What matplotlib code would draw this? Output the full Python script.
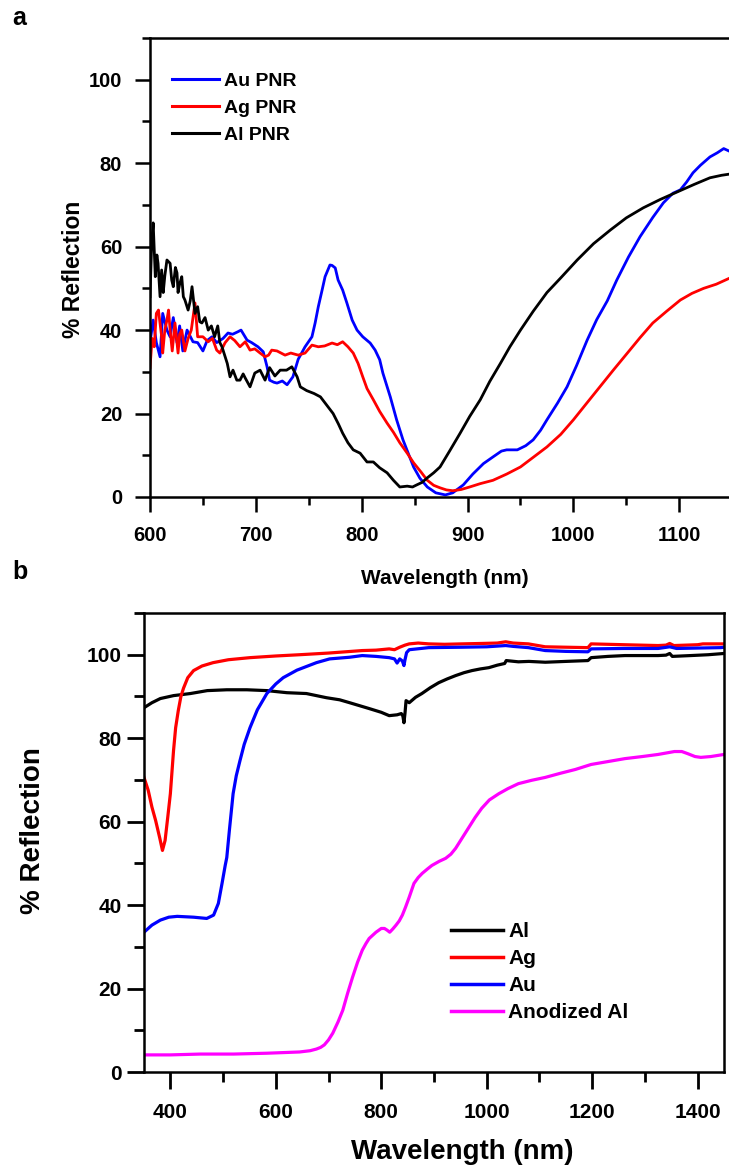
import matplotlib
matplotlib.use("Agg")
import matplotlib.pyplot as plt
from matplotlib.ticker import MultipleLocator

plt.rcParams['font.family'] = ['Liberation Sans', 'DejaVu Sans']
plt.rcParams['font.weight'] = 'bold'

# ---------------- Panel a data ----------------
au_pnr_x = [600, 603, 606, 609.5, 612, 616, 619, 622, 625.5, 628, 631, 635, 640.6, 645, 650, 654, 658.6, 663, 669,
            673.7, 678, 683, 686, 691.7, 696, 702, 707, 710.6, 713, 717, 720, 725, 729.5, 735, 740, 746.5, 753, 756,
            759, 762.6, 765.4, 770, 772, 775, 777.7, 782, 786, 791, 795.6, 801, 808, 812.7, 817, 820, 827, 833, 839,
            849, 855, 862, 870, 879, 886, 896, 905, 915, 924, 932, 937, 947, 955, 962, 969, 975, 985, 994, 1003, 1013,
            1022, 1032, 1041, 1052, 1063, 1075, 1085, 1094, 1101, 1107, 1113, 1120, 1129, 1136, 1142, 1148]
au_pnr_y = [37, 42.4, 37, 33.6, 44, 40, 38.4, 43, 37, 41, 35, 40, 37.2, 37, 35, 37.5, 38.4, 37, 38,
            39.3, 39, 39.6, 40, 37.6, 37, 36, 34.8, 31.2, 28, 27.5, 27.3, 27.8, 26.9, 28.8, 33, 36, 38.4, 41.7,
            45.6, 49.6, 52.8, 55.6, 55.5, 54.9, 52, 49.6, 46.5, 42.4, 40, 38.4, 36.9, 35.2, 32.9, 29.7, 24, 18.5, 13.7,
            7.2, 4.5, 2.4, 1, 0.5, 1, 2.9, 5.5, 8, 9.6, 11, 11.3, 11.3, 12.3, 13.7, 16, 18.5, 22.5, 26.4, 31.5, 37.6,
            42.5, 47, 52, 57.5, 62.4, 67, 70.5, 72.8, 73.6, 75.5, 77.7, 79.5, 81.5, 82.5, 83.5, 82.8]

ag_pnr_x = [600, 602, 604, 606, 608, 611, 612, 614, 616, 617.5, 619, 621, 623.6, 626.5, 628, 630, 633, 636, 639,
            642.5, 645, 650, 655, 659, 663, 666, 671, 675.6, 680, 685, 690, 694.5, 699, 704, 708.7, 712, 715, 720,
            727.6, 733, 740, 746.5, 753, 759, 765, 772, 777, 782, 787, 792, 796.6, 801, 805, 811, 817, 824, 830, 836,
            843, 849, 856, 862, 868, 874, 880, 886, 894, 902, 912, 924, 937, 950, 962, 975, 988, 1000, 1012, 1025,
            1038, 1051, 1063, 1075, 1088, 1101, 1112, 1123, 1135, 1148]
ag_pnr_y = [31, 38, 36, 44, 44.8, 38.4, 34.5, 40, 42.4, 44.8, 40, 35, 41.7, 34.5, 39, 40, 35, 38, 40,
            46.5, 38.4, 38.4, 37.2, 38, 35.2, 34.5, 37, 38.4, 37.5, 36, 37.2, 35.2, 35.5, 34.5, 33.6, 34, 35.2, 35,
            34, 34.5, 34, 34.5, 36.4, 36, 36.2, 36.9, 36.5, 37.2, 36, 34.5, 32, 28.8, 26, 23.3, 20.5, 17.7, 15.5, 13,
            10.5, 8.2, 6, 4, 2.8, 2.2, 1.7, 1.5, 1.8, 2.4, 3.2, 4, 5.5, 7.2, 9.5, 12, 15, 18.5, 22.3, 26.4,
            30.5, 34.5, 38.2, 41.7, 44.5, 47.2, 48.8, 50, 51, 52.5]

al_pnr_x = [600, 601.6, 603, 605, 606.5, 607.6, 609.5, 611, 612.5, 614, 616, 619, 620.5, 622, 624, 625.5, 626.5, 628,
            630, 631.5, 633, 636, 638, 639.7, 642.5, 645, 647, 649, 652, 655, 658, 661, 664, 666, 668, 671, 673,
            675.6, 678.4, 682, 685, 688, 690, 694.5, 699, 704, 708.7, 713, 718, 723, 729, 734, 739, 742, 748, 755,
            761, 767, 773, 778, 782, 787, 792, 798.5, 805, 811, 817, 824, 830, 836, 843, 848, 852, 857, 862, 868,
            874, 883, 893, 902, 912, 921, 931, 940, 950, 962, 975, 988, 1003.6, 1019, 1035, 1050, 1066, 1082, 1098,
            1114, 1129, 1140, 1148]
al_pnr_y = [48, 61, 65.7, 52.8, 58, 56, 48, 54.4, 49, 53, 56.8, 56, 52, 50.4, 55, 53.7, 49, 51,
            52.8, 48, 47.2, 44.8, 47, 50.4, 44, 45.6, 42, 41.7, 43, 40, 41, 38.4, 41, 37, 36, 33.6, 32,
            28.8, 30.4, 28, 28, 29.5, 28.5, 26.4, 29.7, 30.4, 28, 31, 29, 30.4, 30.4, 31.2, 28.8, 26.4, 25.5, 24.8,
            24, 22, 20, 17.5, 15.3, 13, 11.3, 10.5, 8.4, 8.4, 7, 5.8, 4, 2.4, 2.6, 2.4, 2.9, 3.5, 4.6, 5.8,
            7.2, 11, 15.3, 19.3, 23.3, 27.7, 32, 36, 40, 44.5, 49, 52.5, 56.8, 60.7, 64, 66.9, 69.3, 71.3, 73.1,
            74.9, 76.5, 77.1, 77.4]

# ---------------- Panel b data ----------------
al_x = [350, 365, 381, 406, 438, 470, 507, 545, 583, 621, 658, 696, 721, 740, 777, 800, 815, 830, 838, 841, 843,
        845, 847, 853, 865, 877, 893, 909, 925, 941, 957, 972, 988, 1004, 1020, 1034, 1037, 1060, 1080, 1111,
        1150, 1192, 1198, 1230, 1262, 1300, 1325, 1340, 1347, 1352, 1387, 1420, 1450]
al_y = [87.3, 88.5, 89.5, 90.2, 90.7, 91.4, 91.6, 91.6, 91.4, 90.9, 90.7, 89.7, 89.2, 88.5, 87.1, 86.2, 85.4, 85.6,
        85.9, 85.3, 83.7, 86, 89, 88.5, 89.8, 90.7, 92.1, 93.3, 94.2, 95, 95.7, 96.2, 96.6, 96.9, 97.5, 97.9, 98.6,
        98.3, 98.4, 98.2, 98.4, 98.6, 99.3, 99.6, 99.8, 99.8, 99.8, 99.9, 100.3, 99.6, 99.8, 100, 100.3]

ag_x = [350, 358, 365, 372, 380, 385, 390, 395, 400, 406, 410, 415, 420, 425, 433, 444, 460, 481, 510, 551, 600,
        645, 700, 764, 790, 815, 825, 835, 845, 853, 870, 890, 920, 953, 990, 1020, 1036, 1050, 1079, 1111, 1150,
        1192, 1198, 1260, 1325, 1340, 1347, 1355, 1400, 1410, 1450]
ag_y = [70.6, 67.5, 63.5, 60.3, 56, 53.1, 55.5, 61, 66.7, 77, 82.5, 86.6, 90, 92, 94.5, 96.2, 97.3, 98.1, 98.8,
        99.3, 99.7, 100, 100.4, 101, 101.1, 101.4, 101.2, 101.8, 102.3, 102.6, 102.8, 102.6, 102.5, 102.6, 102.7,
        102.8, 103.1, 102.8, 102.6, 101.9, 101.8, 101.7, 102.6, 102.4, 102.2, 102.3, 102.7, 102.2, 102.4, 102.6,
        102.6]

au_x = [350, 365, 381, 397, 413, 444, 469, 482, 491, 498, 504, 507, 512, 519, 525, 532, 540, 551, 565, 583, 600,
        614, 640, 677, 702, 740, 764, 790, 815, 825, 830, 835, 840, 843, 845, 848, 853, 890, 953, 1000, 1036, 1050,
        1079, 1111, 1150, 1192, 1198, 1260, 1325, 1347, 1360, 1400, 1444, 1450]
au_y = [33.5, 35.2, 36.4, 37.1, 37.3, 37.1, 36.8, 37.6, 40.4, 45.2, 49.5, 51.4, 58, 66.7, 71, 74.6, 78.5, 82.5,
        86.8, 90.7, 93, 94.5, 96.3, 98.1, 99, 99.4, 99.8, 99.6, 99.3, 99, 98, 99, 98.5, 97.4, 98.8, 100.5, 101.2,
        101.7, 101.8, 101.9, 102.2, 102, 101.7, 101, 100.8, 100.7, 101.4, 101.5, 101.5, 101.9, 101.5, 101.6, 101.7,
        101.8]

anod_x = [350, 400, 457, 520, 583, 645, 665, 677, 685, 692, 700, 708, 718, 727, 736, 745.5, 755, 764, 771, 777, 790,
          800, 806, 811, 816, 822, 828, 834, 840, 846, 853, 862, 870, 877.6, 888, 896, 910, 922, 932, 941, 953, 966,
          978, 990.5, 1005, 1023, 1040, 1060, 1085, 1111, 1140, 1168, 1198, 1230, 1262, 1295, 1325, 1356, 1370,
          1381, 1395, 1406, 1425, 1450]
anod_y = [4.1, 4.1, 4.3, 4.3, 4.5, 4.8, 5.1, 5.5, 5.9, 6.5, 7.7, 9.3, 12, 14.8, 18.8, 22.7, 26.3, 29.2, 30.8, 32,
          33.5, 34.4, 34.4, 34.0, 33.5, 34.3, 35.2, 36.2, 37.6, 39.5, 41.9, 45.2, 46.6, 47.6, 48.7, 49.5, 50.5, 51.2,
          52.2, 53.6, 56, 58.6, 61, 63.2, 65.2, 66.7, 67.9, 69.1, 69.9, 70.6, 71.6, 72.5, 73.7, 74.4, 75.1, 75.6,
          76.1, 76.8, 76.8, 76.3, 75.6, 75.4, 75.6, 76.1]

BLUE, RED, BLACK, MAG = '#0000ff', '#ff0000', '#000000', '#ff00ff'

W, H = 729, 1168
fig = plt.figure(figsize=(W / 100, H / 100), dpi=100)

def axes_px(l, t, r, b):
    return fig.add_axes([l / W, 1 - b / H, (r - l) / W, (b - t) / H])

# ---------------- Panel a ----------------
axa = axes_px(150, 38, 729, 497)
axa.plot(au_pnr_x, au_pnr_y, color=BLUE, lw=2.0, label='Au PNR')
axa.plot(ag_pnr_x, ag_pnr_y, color=RED, lw=2.0, label='Ag PNR')
axa.plot(al_pnr_x, al_pnr_y, color=BLACK, lw=2.0, label='Al PNR')
axa.set_xlim(600, 1147)
axa.set_ylim(0, 110)
axa.spines['right'].set_visible(False)
for s in ['left', 'top', 'bottom']:
    axa.spines[s].set_linewidth(1.8)
axa.xaxis.set_major_locator(MultipleLocator(100))
axa.xaxis.set_minor_locator(MultipleLocator(50))
axa.yaxis.set_major_locator(MultipleLocator(20))
axa.yaxis.set_minor_locator(MultipleLocator(10))
axa.tick_params(which='major', direction='out', length=11, width=1.8, labelsize=14.5)
axa.tick_params(which='minor', direction='out', length=6, width=1.8)
axa.tick_params(axis='x', which='major', pad=10)
axa.tick_params(axis='y', which='major', pad=9)
axa.set_xlabel('Wavelength (nm)', fontsize=15, fontweight='bold')
axa.set_ylabel('% Reflection', fontsize=16.5, fontweight='bold')
axa.xaxis.label.set_va('center')
axa.yaxis.label.set_va('center')
axa.xaxis.set_label_coords(0.51, (497 - 578) / 459)
axa.yaxis.set_label_coords((73 - 150) / 579, 0.495)
la = axa.legend(loc='upper left', bbox_to_anchor=((172 - 150) / 579, (497 - 72) / 459), frameon=False,
                fontsize=14, handlelength=2.4, handletextpad=0.25, labelspacing=0.5, borderpad=0, borderaxespad=0)
for t in la.get_texts():
    t.set_fontweight('bold')
for l in la.get_lines():
    l.set_linewidth(2.2)

fig.text(12 / W, 1 - 18 / H, 'a', fontsize=18, fontweight='bold', va='center', ha='left')

# ---------------- Panel b ----------------
axb = axes_px(144, 613, 724, 1072)
axb.plot(al_x, al_y, color=BLACK, lw=2.3, label='Al')
axb.plot(ag_x, ag_y, color=RED, lw=2.3, label='Ag')
axb.plot(au_x, au_y, color=BLUE, lw=2.3, label='Au')
axb.plot(anod_x, anod_y, color=MAG, lw=2.3, label='Anodized Al')
axb.set_xlim(350, 1450)
axb.set_ylim(0, 110)
for s in axb.spines.values():
    s.set_linewidth(1.8)
axb.xaxis.set_major_locator(MultipleLocator(200))
axb.xaxis.set_minor_locator(MultipleLocator(100))
axb.yaxis.set_major_locator(MultipleLocator(20))
axb.yaxis.set_minor_locator(MultipleLocator(10))
axb.tick_params(which='major', direction='out', length=12, width=2.0, labelsize=15)
axb.tick_params(which='minor', direction='out', length=7, width=2.0)
axb.tick_params(axis='x', which='major', pad=10)
axb.tick_params(axis='y', which='major', pad=4)
axb.set_xlabel('Wavelength (nm)', fontsize=20, fontweight='bold')
axb.set_ylabel('% Reflection', fontsize=20, fontweight='bold')
axb.xaxis.label.set_va('center')
axb.yaxis.label.set_va('center')
axb.xaxis.set_label_coords((462 - 144) / 580, (1072 - 1152) / 459)
axb.yaxis.set_label_coords((33 - 144) / 580, 0.527)
lb = axb.legend(loc='upper left', bbox_to_anchor=((451 - 144) / 580, (1072 - 922) / 459), frameon=False,
                fontsize=15, handlelength=2.5, handletextpad=0.25, labelspacing=0.39, borderpad=0, borderaxespad=0)
for t in lb.get_texts():
    t.set_fontweight('bold')
for l in lb.get_lines():
    l.set_linewidth(2.5)

fig.text(12 / W, 1 - 572 / H, 'b', fontsize=18, fontweight='bold', va='center', ha='left')

fig.savefig('out.png', dpi=100)
